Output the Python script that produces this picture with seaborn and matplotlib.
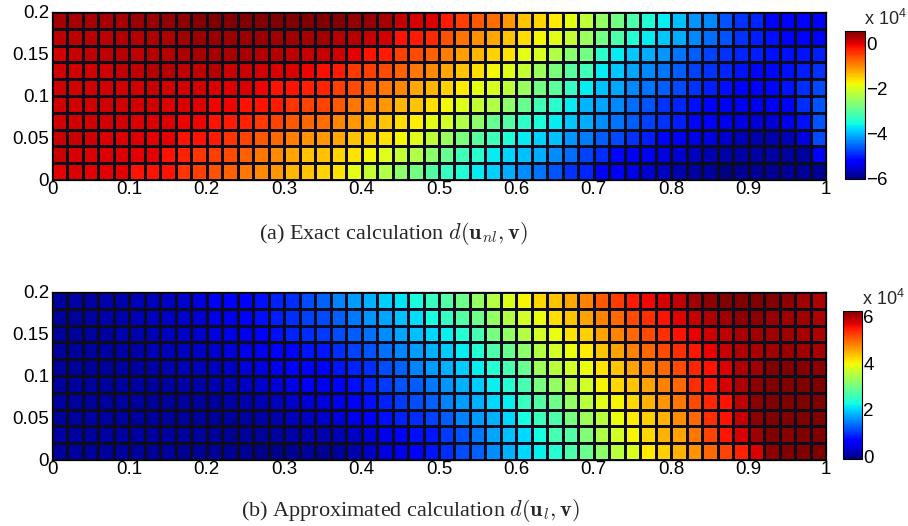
import matplotlib
matplotlib.use("Agg")
import matplotlib.pyplot as plt
import pandas as pd
import seaborn as sns

sns.set_theme(style="white")
plt.rcParams["font.family"] = ["Liberation Sans", "DejaVu Sans"]
plt.rcParams["mathtext.fontset"] = "cm"

# Domain and tick labels
x_range = (0.0, 1.0)
y_range = (0.0, 0.2)
x_ticks = [0, 0.1, 0.2, 0.3, 0.4, 0.5, 0.6, 0.7, 0.8, 0.9, 1]
y_ticks = [0, 0.05, 0.1, 0.15, 0.2]

# Cell values in units of 1e4, one list per row, top row (y = 0.2) first
exact_rows = [
    [0.33, 0.32, 0.31, 0.32, 0.31, 0.38, 0.40, 0.44, 0.47, 0.53, 0.54, 0.54, 0.55, 0.54, 0.55, 0.54, 0.55,
     0.55, 0.53, 0.44, 0.43, 0.34, 0.17, 0.07, 0.02, -0.22, -0.48, -0.67, -0.80, -1.10, -1.40, -1.55, -1.66, -1.90,
     -2.20, -2.53, -2.80, -3.10, -3.45, -3.67, -3.97, -4.23, -4.33, -4.65, -4.88, -4.97, -5.24, -5.27, -5.24, -5.27],
    [0.20, 0.20, 0.20, 0.21, 0.27, 0.27, 0.30, 0.28, 0.36, 0.38, 0.39, 0.38, 0.39, 0.38, 0.37, 0.36, 0.33,
     0.37, 0.25, 0.25, 0.17, 0.09, -0.18, -0.22, -0.33, -0.60, -0.84, -1.05, -1.21, -1.42, -1.60, -1.76, -1.92, -2.15,
     -2.48, -2.80, -3.10, -3.45, -3.67, -3.90, -4.09, -4.33, -4.50, -4.65, -4.88, -5.01, -5.12, -5.22, -5.22, -5.22],
    [0.09, 0.15, 0.19, 0.19, 0.24, 0.19, 0.23, 0.23, 0.28, 0.32, 0.32, 0.32, 0.31, 0.26, 0.24, 0.19, 0.15,
     0.17, 0.09, -0.02, -0.18, -0.22, -0.48, -0.56, -0.72, -0.92, -1.14, -1.30, -1.52, -1.62, -1.90, -2.00, -2.30, -2.62,
     -2.80, -3.37, -3.67, -3.90, -4.09, -4.23, -4.45, -4.60, -4.77, -4.88, -4.97, -5.01, -5.12, -5.12, -5.08, -5.01],
    [0.09, 0.09, 0.09, 0.09, 0.19, 0.19, 0.25, 0.25, 0.19, 0.19, 0.24, 0.14, 0.14, 0.09, 0.03, 0.02, -0.06,
     -0.15, -0.22, -0.42, -0.48, -0.56, -0.72, -0.86, -1.00, -1.20, -1.42, -1.60, -1.76, -1.96, -2.15, -2.48, -2.75, -3.00,
     -3.20, -3.67, -3.90, -4.13, -4.33, -4.45, -4.60, -4.77, -4.88, -4.97, -5.08, -5.17, -5.17, -5.12, -5.01, -4.88],
    [0.09, 0.09, 0.09, 0.09, 0.09, 0.09, 0.14, 0.09, 0.09, 0.08, 0.03, 0.02, 0.06, -0.06, -0.18, -0.18, -0.25,
     -0.27, -0.48, -0.56, -0.72, -0.86, -0.96, -1.20, -1.30, -1.52, -1.66, -1.90, -2.00, -2.20, -2.50, -2.80, -3.00, -3.30,
     -3.67, -3.97, -4.10, -4.33, -4.45, -4.60, -4.72, -4.88, -5.01, -5.12, -5.22, -5.22, -5.17, -5.08, -4.92, -4.72],
    [0.09, 0.09, 0.09, 0.09, 0.09, 0.09, 0.08, 0.03, 0.03, 0.02, -0.06, -0.07, -0.18, -0.18, -0.22, -0.40, -0.52,
     -0.52, -0.67, -0.86, -1.00, -1.10, -1.30, -1.42, -1.60, -1.76, -1.95, -2.15, -2.30, -2.60, -2.90, -3.20, -3.40, -3.67,
     -4.03, -4.15, -4.33, -4.50, -4.65, -4.88, -4.97, -5.12, -5.28, -5.35, -5.38, -5.38, -5.32, -5.22, -4.92, -4.65],
    [0.09, 0.09, 0.09, 0.09, 0.09, 0.03, 0.03, 0.02, -0.06, -0.08, -0.18, -0.22, -0.27, -0.44, -0.52, -0.67, -0.77,
     -0.80, -0.96, -1.10, -1.30, -1.42, -1.60, -1.68, -1.90, -2.05, -2.30, -2.60, -2.90, -3.05, -3.35, -3.50, -3.67, -3.90,
     -4.09, -4.28, -4.45, -4.60, -4.77, -4.88, -5.01, -5.17, -5.32, -5.38, -5.45, -5.52, -5.52, -5.40, -5.12, -4.65],
    [0.14, 0.14, 0.09, 0.03, 0.03, 0.03, -0.02, -0.02, -0.18, -0.18, -0.22, -0.40, -0.52, -0.67, -0.77, -0.92, -1.08,
     -1.10, -1.20, -1.42, -1.52, -1.62, -1.76, -1.95, -2.20, -2.48, -2.75, -3.00, -3.20, -3.45, -3.67, -3.85, -3.97, -4.23,
     -4.40, -4.60, -4.72, -4.88, -5.01, -5.28, -5.32, -5.42, -5.48, -5.58, -5.70, -5.75, -5.75, -5.70, -5.45, -4.72],
    [0.14, 0.06, 0.03, 0.03, 0.03, -0.02, -0.02, -0.18, -0.27, -0.40, -0.48, -0.56, -0.72, -0.86, -1.00, -1.20, -1.38,
     -1.38, -1.52, -1.62, -1.76, -1.95, -2.15, -2.30, -2.60, -2.90, -3.20, -3.40, -3.67, -3.82, -3.97, -4.09, -4.28, -4.50,
     -4.77, -4.92, -5.17, -5.32, -5.38, -5.48, -5.55, -5.66, -5.75, -5.78, -5.82, -5.82, -5.82, -5.85, -5.84, -5.22],
    [-0.02, 0.03, -0.02, -0.02, -0.02, -0.18, -0.18, -0.18, -0.40, -0.48, -0.62, -0.72, -0.86, -1.00, -1.10, -1.30, -1.42,
     -1.52, -1.62, -1.90, -2.15, -2.30, -2.60, -2.80, -3.05, -3.30, -3.45, -3.67, -3.85, -4.09, -4.28, -4.45, -4.65, -4.88,
     -4.97, -5.22, -5.32, -5.42, -5.55, -5.66, -5.75, -5.82, -5.85, -6.03, -5.92, -5.90, -5.88, -5.90, -5.90, -5.88],
]

approx_rows = [
    [0.08, 0.11, 0.11, 0.15, 0.15, 0.20, 0.24, 0.28, 0.32, 0.42, 0.59, 0.64, 0.64, 0.76, 0.89, 0.97, 1.17,
     1.30, 1.50, 1.66, 1.78, 1.95, 2.10, 2.30, 2.54, 2.75, 2.95, 3.25, 3.50, 3.80, 4.01, 4.20, 4.33, 4.53,
     4.77, 5.06, 5.24, 5.48, 5.61, 5.74, 5.88, 6.05, 6.15, 6.23, 6.22, 6.23, 6.22, 6.15, 6.05, 5.97],
    [0.04, 0.06, 0.11, 0.15, 0.15, 0.20, 0.24, 0.28, 0.32, 0.37, 0.46, 0.50, 0.59, 0.76, 0.86, 0.97, 1.10,
     1.14, 1.30, 1.45, 1.60, 1.72, 1.88, 2.05, 2.28, 2.52, 2.74, 2.95, 3.25, 3.50, 3.72, 3.92, 4.15, 4.33,
     4.57, 4.77, 4.95, 5.15, 5.34, 5.53, 5.70, 5.84, 5.96, 6.05, 6.14, 6.14, 6.10, 6.05, 6.05, 5.96],
    [0.04, 0.04, 0.08, 0.08, 0.15, 0.15, 0.20, 0.24, 0.28, 0.32, 0.42, 0.46, 0.50, 0.59, 0.76, 0.89, 0.97,
     1.03, 1.17, 1.27, 1.38, 1.55, 1.72, 1.88, 2.02, 2.17, 2.40, 2.64, 3.03, 3.25, 3.50, 3.72, 3.92, 4.13,
     4.25, 4.57, 4.77, 4.95, 5.15, 5.34, 5.53, 5.65, 5.80, 5.88, 6.00, 6.05, 6.05, 6.05, 6.00, 5.97],
    [0.04, 0.04, 0.08, 0.08, 0.11, 0.11, 0.20, 0.20, 0.24, 0.28, 0.32, 0.37, 0.46, 0.50, 0.59, 0.64, 0.80,
     0.82, 0.97, 1.10, 1.22, 1.38, 1.50, 1.66, 1.78, 1.95, 2.15, 2.40, 2.70, 2.90, 3.20, 3.50, 3.72, 3.92,
     4.10, 4.33, 4.57, 4.77, 4.95, 5.15, 5.34, 5.49, 5.65, 5.84, 5.96, 6.00, 6.05, 6.10, 6.05, 6.00],
    [0.08, 0.04, 0.08, 0.04, 0.08, 0.08, 0.11, 0.15, 0.20, 0.20, 0.24, 0.28, 0.37, 0.42, 0.50, 0.59, 0.59,
     0.60, 0.80, 0.89, 0.97, 1.17, 1.30, 1.50, 1.66, 1.78, 1.95, 2.17, 2.40, 2.64, 2.90, 3.32, 3.55, 3.72,
     3.92, 4.13, 4.33, 4.57, 4.77, 4.95, 5.15, 5.40, 5.53, 5.71, 5.96, 6.05, 6.22, 6.22, 6.20, 6.14],
    [0.08, 0.08, 0.08, 0.04, 0.08, 0.08, 0.04, 0.08, 0.11, 0.11, 0.15, 0.20, 0.28, 0.32, 0.37, 0.46, 0.55,
     0.52, 0.59, 0.76, 0.89, 1.03, 1.22, 1.27, 1.45, 1.60, 1.78, 1.95, 2.17, 2.40, 2.64, 3.03, 3.25, 3.50,
     3.72, 4.01, 4.20, 4.33, 4.57, 4.77, 4.95, 5.34, 5.49, 5.74, 5.96, 6.14, 6.22, 6.23, 6.22, 6.22],
    [0.08, 0.08, 0.08, 0.08, 0.08, 0.08, 0.04, 0.04, 0.08, 0.08, 0.08, 0.11, 0.15, 0.20, 0.24, 0.32, 0.37,
     0.42, 0.50, 0.59, 0.76, 0.89, 1.03, 1.17, 1.30, 1.50, 1.66, 1.78, 2.02, 2.17, 2.54, 2.75, 2.95, 3.25,
     3.55, 3.85, 4.01, 4.20, 4.45, 4.65, 4.85, 5.15, 5.40, 5.53, 5.88, 6.14, 6.22, 6.22, 6.23, 6.23],
    [0.08, 0.08, 0.11, 0.08, 0.08, 0.08, 0.08, 0.04, 0.04, 0.04, 0.04, 0.04, 0.08, 0.11, 0.15, 0.24, 0.28,
     0.32, 0.42, 0.50, 0.59, 0.76, 0.89, 0.97, 1.10, 1.27, 1.50, 1.66, 1.78, 2.02, 2.28, 2.58, 2.70, 3.03,
     3.32, 3.55, 3.92, 4.10, 4.25, 4.45, 4.70, 4.95, 5.34, 5.53, 5.84, 6.14, 6.22, 6.22, 6.22, 6.23],
    [0.11, 0.08, 0.08, 0.08, 0.08, 0.08, 0.08, 0.08, 0.04, 0.04, 0.04, 0.00, 0.04, 0.04, 0.08, 0.11, 0.15,
     0.15, 0.20, 0.28, 0.37, 0.50, 0.59, 0.76, 0.82, 1.03, 1.22, 1.45, 1.72, 1.88, 2.02, 2.28, 2.64, 2.75,
     3.09, 3.45, 3.72, 4.01, 4.20, 4.45, 4.57, 4.85, 5.20, 5.49, 5.74, 6.05, 6.22, 6.18, 6.22, 6.22],
    [0.08, 0.08, 0.08, 0.08, 0.08, 0.04, 0.04, 0.04, 0.00, 0.00, 0.04, 0.00, 0.00, -0.04, -0.04, 0.00, 0.04,
     0.00, 0.08, 0.15, 0.28, 0.42, 0.50, 0.64, 0.80, 0.97, 1.17, 1.30, 1.55, 1.78, 2.02, 2.17, 2.40, 2.70,
     2.92, 3.20, 3.55, 3.80, 4.10, 4.25, 4.45, 4.65, 4.95, 5.20, 5.43, 5.71, 6.14, 6.22, 6.22, 6.22],
]

exact_limits = (-6.03, 0.56)
approx_limits = (-0.11, 6.23)
exact_cbar_ticks = [0, -2, -4, -6]
approx_cbar_ticks = [0, 2, 4, 6]

captions = [
    r"(a) Exact calculation $d(\mathbf{u}_{nl},\mathbf{v})$",
    r"(b) Approximated calculation $d(\mathbf{u}_{l},\mathbf{v})$",
]

W, H = 908, 526
fig = plt.figure(figsize=(W / 100, H / 100), dpi=100)


def px_rect(left, top, right, bottom):
    return [left / W, 1 - bottom / H, (right - left) / W, (bottom - top) / H]


panels = [
    dict(rows=exact_rows, lim=exact_limits, ticks=exact_cbar_ticks,
         ax=px_rect(52, 12, 826, 180), cax=px_rect(845, 31, 865, 179),
         exp_xy=(864, 25), cap_xy=(393, 233), caption=captions[0]),
    dict(rows=approx_rows, lim=approx_limits, ticks=approx_cbar_ticks,
         ax=px_rect(52, 292, 826, 460), cax=px_rect(843, 311, 862, 459),
         exp_xy=(862, 305), cap_xy=(410, 511), caption=captions[1]),
]

tick_fs = 13.5

for p in panels:
    rows = p["rows"]
    n_rows, n_cols = len(rows), len(rows[0])
    df = pd.DataFrame(rows)
    ax = fig.add_axes(p["ax"])
    cax = fig.add_axes(p["cax"])
    sns.heatmap(df, ax=ax, cmap="jet", vmin=p["lim"][0], vmax=p["lim"][1],
                linewidths=0.8, linecolor="#0c0c1c", cbar_ax=cax,
                xticklabels=False, yticklabels=False, square=False)

    # numeric ticks mapped onto the cell grid
    xs = [(v - x_range[0]) / (x_range[1] - x_range[0]) * n_cols for v in x_ticks]
    ys = [(y_range[1] - v) / (y_range[1] - y_range[0]) * n_rows for v in y_ticks]
    ax.set_xticks(xs)
    ax.set_xticklabels([f"{v:g}" for v in x_ticks], rotation=0)
    ax.set_yticks(ys)
    ax.set_yticklabels([f"{v:g}" for v in y_ticks], rotation=0)
    ax.tick_params(axis="both", labelsize=tick_fs, length=3, direction="in",
                   colors="black")
    ax.tick_params(axis="x", pad=1)
    ax.tick_params(axis="y", pad=2)
    for s in ax.spines.values():
        s.set_visible(True)
        s.set_color("black")
        s.set_linewidth(0.9)

    cb = ax.collections[0].colorbar
    cb.set_ticks(p["ticks"])
    cb.set_ticklabels([f"{t:g}".replace("-", "\u2212") for t in p["ticks"]])
    cb.outline.set_visible(True)
    cb.outline.set_edgecolor("black")
    cb.outline.set_linewidth(0.8)
    cax.tick_params(labelsize=tick_fs, length=3, direction="in", pad=1,
                    colors="black", right=True, left=False)

    fig.text(p["exp_xy"][0] / W, 1 - p["exp_xy"][1] / H,
             r"x 10$^{\mathregular{4}}$", fontsize=13, ha="left", va="baseline")
    fig.text(p["cap_xy"][0] / W, 1 - p["cap_xy"][1] / H, p["caption"],
             family=["Liberation Serif", "DejaVu Serif"], fontsize=16,
             ha="center", va="center")

fig.savefig("out.png", dpi=100, facecolor="white")
